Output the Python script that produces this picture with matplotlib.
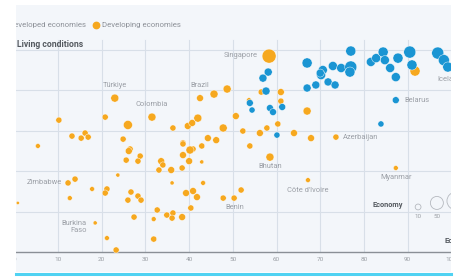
import matplotlib
matplotlib.use("Agg")
import matplotlib.pyplot as plt
from matplotlib.lines import Line2D

plt.rcParams["font.family"] = ["Roboto", "DejaVu Sans"]

# developing economies (orange): x, y, economy size
dvg_x = [23.0, 10.2, 5.4, 13.2, 15.3, 16.2, 16.9, 20.8, 26.0, 24.9, 26.5, 31.5, 36.3, 38.6,
         39.7, 40.7, 42.0, 42.5, 45.7, 48.7, 47.8, 44.3, 46.2, 42.9, 40.9, 58.3, 56.5, 61.0,
         53.7, 61.0, 67.0, 50.7, 91.7, 52.3, 56.2, 57.8, 60.3, 64.0, 67.9, 73.6, 53.9, 58.5,
         67.2, 51.9, 50.3, 87.3, 12.3, 13.9, 17.8, 21.2, 20.8, 12.7, 0.8, 18.5, 21.2, 23.3,
         26.2, 28.8, 25.6, 28.3, 23.7, 33.6, 34.0, 33.1, 35.9, 38.6, 40.2, 38.6, 40.0, 42.9,
         38.4, 36.1, 43.2, 26.7, 26.0, 28.3, 29.0, 39.3, 40.9, 41.8, 47.8, 40.4, 32.7, 34.9,
         36.3, 36.1, 38.4, 27.4, 31.9, 31.9]
dvg_y = [76.2, 65.3, 52.5, 57.4, 56.4, 58.9, 56.9, 66.8, 62.9, 55.9, 51.0, 66.8, 61.4, 54.0,
         62.4, 63.9, 66.3, 76.2, 78.2, 80.7, 61.4, 56.4, 55.4, 52.5, 51.0, 97.0, 79.2, 79.2,
         75.2, 74.7, 69.8, 67.3, 89.6, 59.9, 58.9, 61.4, 63.4, 58.9, 56.4, 56.9, 52.5, 47.0,
         35.6, 30.7, 26.7, 41.6, 34.2, 36.1, 31.2, 31.2, 29.2, 26.7, 24.3, 14.4, 6.9, 1.0,
         50.0, 47.5, 45.5, 45.0, 38.1, 45.0, 43.1, 40.6, 40.6, 53.5, 50.5, 48.0, 45.0, 44.6,
         41.6, 34.2, 34.2, 29.7, 25.7, 27.7, 25.7, 29.2, 30.2, 27.2, 26.7, 21.8, 20.8, 18.3,
         19.3, 16.8, 17.3, 17.3, 16.3, 6.4]
dvg_size = [19, 11, 7, 11, 11, 11, 11, 11, 24, 11, 11, 19, 11, 11,
            14, 14, 19, 14, 19, 19, 19, 14, 14, 11, 11, 58, 11, 14,
            7, 11, 19, 14, 30, 11, 14, 11, 11, 14, 14, 11, 11, 19,
            7, 11, 11, 7, 11, 11, 7, 11, 11, 7, 3, 5, 7, 11,
            14, 11, 11, 11, 5, 14, 11, 11, 14, 11, 19, 14, 14, 5,
            11, 5, 7, 11, 11, 11, 11, 14, 14, 14, 11, 11, 11, 11,
            11, 11, 14, 11, 7, 11]

# developed economies (blue)
dev_x = [58.1, 56.9, 57.6, 53.9, 54.4, 58.5, 59.2, 61.3, 60.1, 67.0, 70.6, 72.9, 74.8, 77.0,
         77.0, 76.8, 70.2, 69.0, 71.8, 73.4, 67.0, 70.0, 81.6, 82.8, 84.4, 84.8, 87.8, 86.0,
         87.3, 90.5, 91.0, 96.9, 98.3, 99.2, 87.3, 83.9]
dev_y = [89.1, 86.1, 79.7, 73.8, 70.3, 71.3, 69.3, 71.8, 57.9, 93.6, 90.1, 92.1, 91.1, 91.6,
         99.5, 89.1, 87.6, 82.7, 84.2, 82.7, 81.2, 88.6, 94.1, 96.0, 99.0, 95.0, 96.0, 91.1,
         86.6, 99.0, 92.6, 98.5, 95.0, 91.6, 75.2, 63.4]
dev_size = [19, 19, 19, 14, 11, 14, 14, 14, 11, 30, 24, 24, 24, 43,
            30, 30, 24, 19, 19, 19, 19, 19, 24, 24, 30, 24, 30, 24,
            24, 43, 30, 43, 36, 30, 14, 11]

x_ticks = [0, 10, 20, 30, 40, 50, 60, 70, 80, 90, 100]
y_grid = [20, 40, 60, 80, 100]

labels = ["Türkiye", "Colombia", "Brazil", "Singapore", "Belarus", "Iceland", "Azerbaijan",
          "Bhutan", "Côte d'Ivoire", "Benin", "Myanmar", "Zimbabwe", "Burkina\nFaso"]
label_x = [23.0, 31.5, 42.5, 55.8, 89.2, 96.7, 75.2, 58.5, 67.2, 50.5, 87.3, 10.9, 16.6]
label_y = [82.2, 72.8, 82.2, 97.5, 75.2, 85.6, 56.9, 42.1, 30.7, 21.8, 37.1, 34.2, 12.4]
label_ha = ["center", "center", "center", "right", "left", "left", "left",
            "center", "center", "center", "center", "right", "right"]

BLUE = "#1a95d3"
ORANGE = "#f6a81f"
K = 1.75

fig = plt.figure(figsize=(4.58, 2.77), dpi=100, facecolor="white")
ax = fig.add_axes([16 / 458, 5 / 277, 435 / 458, 267 / 277])
ax.set_facecolor("#f3f6fa")
ax.set_xlim(0.39, 99.93)
ax.set_ylim(-9.9, 122.3)
for s in ax.spines.values():
    s.set_visible(False)
ax.set_xticks([])
ax.set_yticks([])

# grid
for y in y_grid:
    ax.axhline(y, color="#d8dfe8", lw=0.8, zorder=0)
for x in x_ticks[1:-1]:
    ax.plot([x, x], [0, 105], color="#d8dfe8", lw=0.8, zorder=0)
ax.axhline(0, color="#8a8f96", lw=1.0, zorder=1)
for x in x_ticks:
    ax.text(x, -3.6, str(x), ha="center", va="center", fontsize=4.6,
            color="#9a9ea4", clip_on=True)

# points
ax.scatter(dvg_x, dvg_y, s=[v * K for v in dvg_size], color=ORANGE,
           edgecolors="#ffffff", linewidths=0.3, zorder=3)
ax.scatter(dev_x, dev_y, s=[v * K for v in dev_size], color=BLUE,
           edgecolors="#ffffff", linewidths=0.3, zorder=4)

for t, x, y, ha in zip(labels, label_x, label_y, label_ha):
    ax.text(x, y, t, ha=ha, va="center", fontsize=5.4, color="#9b9fa6",
            multialignment="right", linespacing=1.1, clip_on=True, zorder=5)

# legend
ax.scatter([-2.1], [112.4], s=12 * K, color=BLUE, clip_on=True, zorder=5)
ax.text(16.4, 112.4, "Developed economies", ha="right", va="center",
        fontsize=5.7, color="#8d9198", clip_on=True)
ax.scatter([18.7], [112.4], s=12 * K, color=ORANGE, zorder=5)
ax.text(20.1, 112.4, "Developing economies", ha="left", va="center",
        fontsize=5.7, color="#8d9198")
ax.text(0.6, 102.5, "Living conditions", ha="left", va="center",
        fontsize=6.2, color="#555a60", fontweight="bold")

# size legend
ax.text(88.9, 23.3, "Economy", ha="right", va="center", fontsize=5.3,
        color="#555a60", fontweight="bold")
ax.scatter([92.4, 96.7, 101.0], [22.3, 24.3, 25.3], s=[10 * K, 50 * K, 90 * K],
           facecolors="none", edgecolors="#b5b9bf", linewidths=0.6, zorder=5)
ax.text(92.4, 17.8, "10", ha="center", va="center", fontsize=4.5, color="#9a9ea4")
ax.text(96.7, 17.8, "50", ha="center", va="center", fontsize=4.5, color="#9a9ea4")
ax.text(98.5, 5.9, "Economy", ha="left", va="center", fontsize=5.6,
        color="#555a60", fontweight="bold", clip_on=True)

# cyan bottom rule
fig.add_artist(Line2D([16 / 458, 451 / 458], [3 / 277, 3 / 277], color="#4fd2f2",
                      lw=2.2, transform=fig.transFigure))

fig.savefig("out.png", dpi=100, facecolor="white")
